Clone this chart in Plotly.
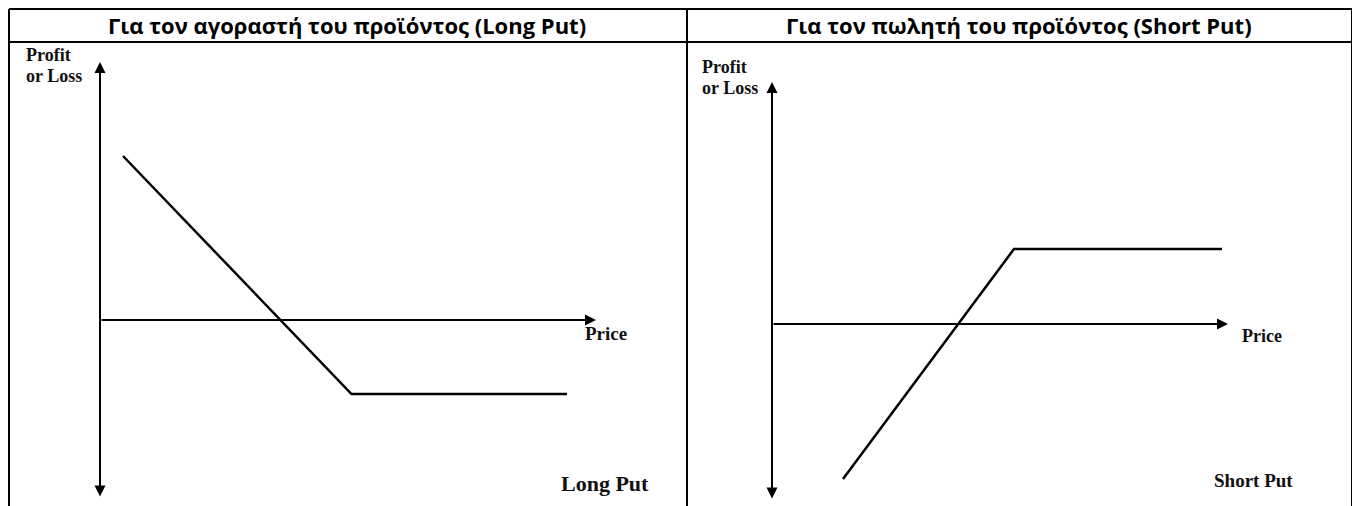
import plotly.graph_objects as go

# page body has an 8px margin -> figure placed at (8, 8); size chosen to fill the window
OFF = 8
W, H = 1360 - OFF, 506 - OFF

# ---- data (arbitrary units) ----
long_put_price = [2.3, 25.15, 46.7]
long_put_pnl = [16.4, -7.4, -7.4]
short_put_price = [7.1, 24.2, 45.0]
short_put_pnl = [-15.5, 7.5, 7.5]

titles = ["Για τον αγοραστή του προϊόντος (Long Put)",
          "Για τον πωλητή του προϊόντος (Short Put)"]
y_label = ["Profit", "or Loss"]
x_label = "Price"
panel_labels = ["Long Put", "Short Put"]


def px(x):
    return (x - OFF) / W


def py(y):
    return 1 - (y - OFF) / H


fig = go.Figure()

fig.add_trace(go.Scatter(x=long_put_price, y=long_put_pnl, mode="lines",
                         line=dict(color="black", width=2.5),
                         xaxis="x", yaxis="y", hoverinfo="skip"))
fig.add_trace(go.Scatter(x=short_put_price, y=short_put_pnl, mode="lines",
                         line=dict(color="black", width=2.5),
                         xaxis="x2", yaxis="y2", hoverinfo="skip"))

ax_common = dict(visible=False, showgrid=False, zeroline=False, fixedrange=True)
fig.update_layout(
    width=W, height=H,
    margin=dict(l=0, r=0, t=0, b=0),
    paper_bgcolor="white", plot_bgcolor="white",
    showlegend=False,
    xaxis=dict(domain=[px(8), px(688)], range=[-9.2, 58.8], **ax_common),
    yaxis=dict(domain=[0, py(43)], range=[-18.6, 27.7], **ax_common),
    xaxis2=dict(domain=[px(688), px(1352)], range=[-8.4, 58.0], anchor="y2", **ax_common),
    yaxis2=dict(domain=[0, py(43)], range=[-18.2, 28.1], anchor="x2", **ax_common),
)

# table borders
shapes = []
bl = dict(color="black", width=2)
for (x0, y0, x1, y1) in [(9, 9, 1352, 9), (9, 42, 1352, 42),
                         (9, 9, 9, 506), (687, 9, 687, 506), (1352, 9, 1352, 506)]:
    shapes.append(dict(type="line", xref="paper", yref="paper",
                       x0=px(x0), y0=py(y0), x1=px(x1), y1=py(y1), line=bl))
fig.update_layout(shapes=shapes)

ann = []
# header titles
for cx, t in zip([347, 1019], titles):
    ann.append(dict(xref="paper", yref="paper", x=px(cx), y=py(25.5),
                    text="<b>" + t + "</b>", showarrow=False,
                    font=dict(family="Open Sans", size=22, color="black"),
                    xanchor="center", yanchor="middle"))


def arrows(xr, yr, vtop, vbot, hend):
    out = []
    out.append(dict(xref=xr, yref=yr, axref=xr, ayref=yr,
                    x=0, y=vtop, ax=0, ay=vbot, text="", showarrow=True,
                    arrowhead=2, startarrowhead=2, arrowside="end+start",
                    arrowsize=1.1, startarrowsize=1.1, arrowwidth=2, arrowcolor="black"))
    out.append(dict(xref=xr, yref=yr, axref=xr, ayref=yr,
                    x=hend, y=0, ax=0, ay=0, text="", showarrow=True,
                    arrowhead=2, arrowsize=1.1, arrowwidth=2, arrowcolor="black"))
    return out


ann += arrows("x", "y", 25.8, -17.8, 49.6)
ann += arrows("x2", "y2", 24.2, -17.6, 45.6)

serif = "Liberation Serif"


def label(x, y, text, size, anchor="left"):
    return dict(xref="paper", yref="paper", x=px(x), y=py(y), xanchor=anchor, yanchor="middle",
                text="<b>" + text + "</b>", showarrow=False,
                font=dict(family=serif, size=size, color="#111"))


# left panel labels
ann.append(label(24, 55, y_label[0], 18))
ann.append(label(24, 76, y_label[1], 18))
ann.append(label(583, 333, x_label, 19))
ann.append(label(651, 483, panel_labels[0], 22, "right"))
# right panel labels
ann.append(label(700, 67, y_label[0], 18))
ann.append(label(700, 88, y_label[1], 18))
ann.append(label(1240, 336, x_label, 18))
ann.append(label(1295, 480, panel_labels[1], 19, "right"))

fig.update_layout(annotations=ann)

fig.write_html("out.html", config={"displayModeBar": False})
